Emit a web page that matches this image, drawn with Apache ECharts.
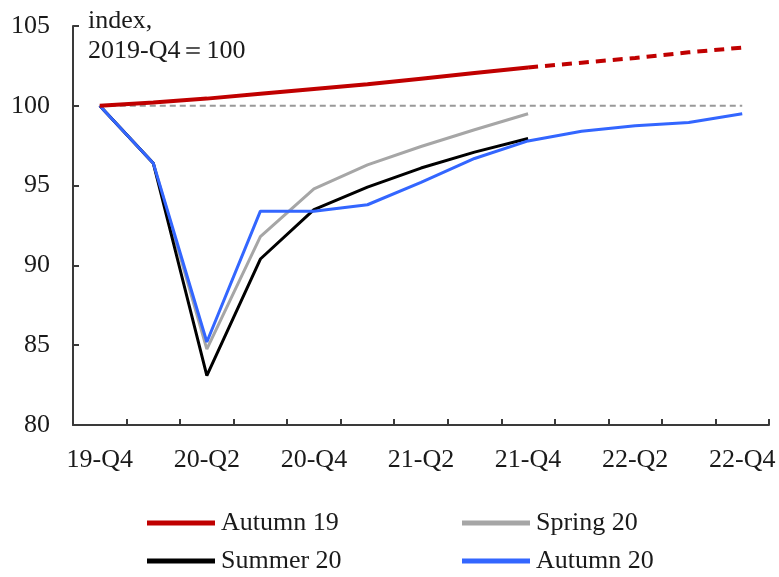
<!DOCTYPE html>
<html>
<head>
<meta charset="utf-8">
<script src="https://cdn.jsdelivr.net/npm/echarts@6/dist/echarts.min.js"></script>
<style>html,body{margin:0;padding:0;background:#fff;}#c{width:779px;height:577px;}</style>
</head>
<body>
<div id="c"></div>
<script>
const categories = ['19-Q4','20-Q1','20-Q2','20-Q3','20-Q4','21-Q1','21-Q2','21-Q3','21-Q4','22-Q1','22-Q2','22-Q3','22-Q4'];
const autumn19 = [100, 100.2, 100.45, 100.75, 101.05, 101.35, 101.7, 102.05, 102.4, 102.7, 103.0, 103.35, 103.65];
const autumn19ForecastFrom = 8;
const spring20 = [100, 96.4, 84.75, 91.8, 94.8, 96.3, 97.45, 98.5, 99.5];
const summer20 = [100, 96.4, 83.1, 90.4, 93.5, 94.9, 96.1, 97.1, 97.95];
const autumn20 = [100, 96.4, 85.2, 93.4, 93.4, 93.8, 95.2, 96.7, 97.8, 98.4, 98.75, 98.95, 99.5];
const baseline = [100, 100, 100, 100, 100, 100, 100, 100, 100, 100, 100, 100, 100];
const yTicks = [80, 85, 90, 95, 100, 105];

const FONT = '"Liberation Serif", "Times New Roman", serif';
const TXT = '#1a1a1a';
const RED = '#c00000', GREY = '#a6a6a6', BLACK = '#000000', BLUE = '#3366ff';

const redSolid = autumn19.map((v, i) => i <= autumn19ForecastFrom ? v : null);
const redDash = autumn19.map((v, i) => i >= autumn19ForecastFrom ? v : null);

function legendAt(name, left, top) {
  return {
    data: [name], left: left, top: top, orient: 'horizontal',
    icon: 'rect', itemWidth: 68, itemHeight: 5, itemGap: 0, padding: 0,
    selectedMode: false,
    textStyle: { fontFamily: FONT, fontSize: 26, color: TXT, padding: [8, 0, 0, 1] }
  };
}

const chart = echarts.init(document.getElementById('c'), null, { renderer: 'canvas' });
chart.setOption({
  animation: false,
  backgroundColor: '#ffffff',
  grid: { left: 73, right: 10, top: 26, bottom: 152, containLabel: false },
  graphic: [
    { type: 'text', left: 88, top: 8, style: { text: 'index,', font: '26px ' + FONT, fill: TXT } },
    { type: 'text', left: 88, top: 38, style: { text: '2019-Q4＝100', font: '26px ' + FONT, fill: TXT } }
  ],
  legend: [
    legendAt('Autumn 19', 147, 510),
    legendAt('Spring 20', 462, 510),
    legendAt('Summer 20', 147, 548),
    legendAt('Autumn 20', 462, 548)
  ],
  xAxis: {
    type: 'category', data: categories, boundaryGap: true,
    axisLine: { show: true, lineStyle: { color: '#3a3a3a', width: 2 } },
    axisTick: { show: true, inside: true, length: 6, interval: 0, lineStyle: { color: '#3a3a3a', width: 2 } },
    axisLabel: { interval: 1, margin: 22, fontFamily: FONT, fontSize: 26, color: TXT },
    splitLine: { show: false }
  },
  yAxis: {
    type: 'value', min: yTicks[0], max: yTicks[yTicks.length - 1], interval: 5,
    axisLine: { show: true, lineStyle: { color: '#3a3a3a', width: 2 } },
    axisTick: { show: true, inside: true, length: 6, lineStyle: { color: '#3a3a3a', width: 2 } },
    axisLabel: { margin: 23, fontFamily: FONT, fontSize: 26, color: TXT },
    splitLine: { show: false }
  },
  series: [
    { name: 'baseline', type: 'line', data: baseline, symbol: 'none', z: 1,
      lineStyle: { color: '#999999', width: 2, type: [6, 4] }, silent: true },
    { name: 'Spring 20', type: 'line', data: spring20, symbol: 'none', color: GREY, z: 2,
      lineStyle: { color: GREY, width: 3 } },
    { name: 'Summer 20', type: 'line', data: summer20, symbol: 'none', color: BLACK, z: 3,
      lineStyle: { color: BLACK, width: 3 } },
    { name: 'Autumn 20', type: 'line', data: autumn20, symbol: 'none', color: BLUE, z: 4,
      lineStyle: { color: BLUE, width: 3 } },
    { name: 'Autumn 19', type: 'line', data: redSolid, symbol: 'none', color: RED, z: 5,
      lineStyle: { color: RED, width: 4 } },
    { name: 'Autumn 19 forecast', type: 'line', data: redDash, symbol: 'none', color: RED, z: 5,
      lineStyle: { color: RED, width: 4, type: [10, 7] } }
  ]
});
</script>
</body>
</html>
